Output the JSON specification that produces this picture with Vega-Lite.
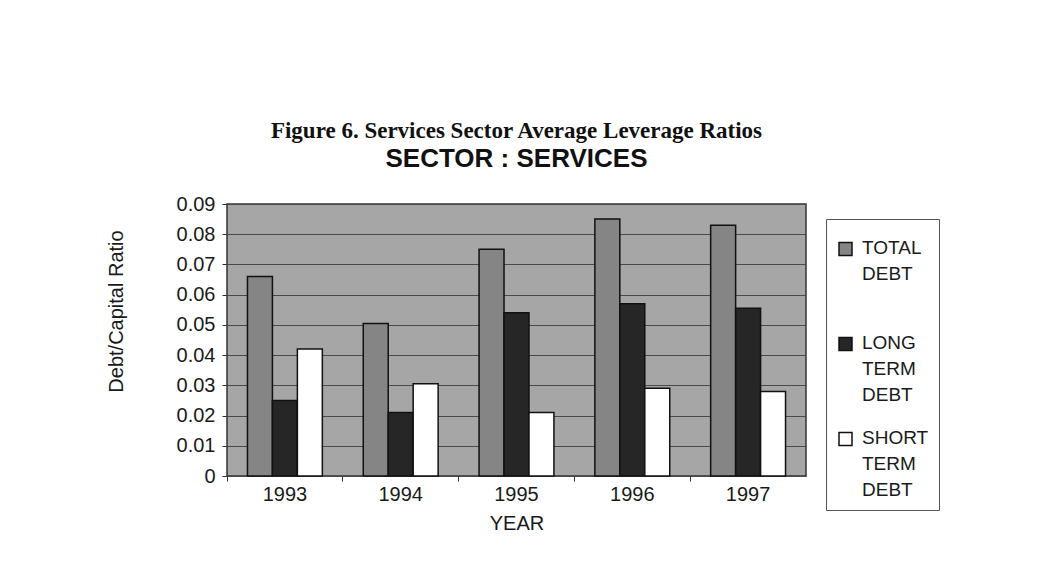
{
  "$schema": "https://vega.github.io/schema/vega-lite/v6.json",
  "width": 579,
  "height": 272,
  "autosize": {"type": "none"},
  "padding": {"left": 227, "top": 204, "right": 241, "bottom": 110},
  "background": "white",
  "title": {
    "text": "Figure 6. Services Sector Average Leverage Ratios",
    "subtitle": "SECTOR : SERVICES",
    "frame": "group",
    "anchor": "middle",
    "font": "Liberation Serif",
    "fontSize": 23,
    "fontWeight": "bold",
    "color": "#111111",
    "subtitleFont": "Liberation Sans",
    "subtitleFontSize": 26,
    "subtitleFontWeight": "bold",
    "subtitleColor": "#111111",
    "subtitlePadding": 3,
    "offset": 22
  },
  "data": {
    "values": [
      {"year": "1993", "series": "TOTAL DEBT", "ratio": 0.066},
      {"year": "1993", "series": "LONG TERM DEBT", "ratio": 0.025},
      {"year": "1993", "series": "SHORT TERM DEBT", "ratio": 0.042},
      {"year": "1994", "series": "TOTAL DEBT", "ratio": 0.0505},
      {"year": "1994", "series": "LONG TERM DEBT", "ratio": 0.021},
      {"year": "1994", "series": "SHORT TERM DEBT", "ratio": 0.0305},
      {"year": "1995", "series": "TOTAL DEBT", "ratio": 0.075},
      {"year": "1995", "series": "LONG TERM DEBT", "ratio": 0.054},
      {"year": "1995", "series": "SHORT TERM DEBT", "ratio": 0.021},
      {"year": "1996", "series": "TOTAL DEBT", "ratio": 0.085},
      {"year": "1996", "series": "LONG TERM DEBT", "ratio": 0.057},
      {"year": "1996", "series": "SHORT TERM DEBT", "ratio": 0.029},
      {"year": "1997", "series": "TOTAL DEBT", "ratio": 0.083},
      {"year": "1997", "series": "LONG TERM DEBT", "ratio": 0.0555},
      {"year": "1997", "series": "SHORT TERM DEBT", "ratio": 0.028}
    ]
  },
  "mark": {"type": "bar", "stroke": "#111111", "strokeWidth": 1.5},
  "encoding": {
    "x": {
      "field": "year",
      "type": "nominal",
      "scale": {"paddingInner": 0, "paddingOuter": 0},
      "axis": {
        "title": "YEAR",
        "labelAngle": 0,
        "bandPosition": 0,
        "labelFont": "Liberation Sans",
        "labelFontSize": 20,
        "labelColor": "#1a1a1a",
        "labelPadding": 3,
        "tickSize": 5,
        "tickColor": "#333333",
        "domain": false,
        "titleFont": "Liberation Sans",
        "titleFontSize": 20,
        "titleFontWeight": "normal",
        "titleColor": "#1a1a1a",
        "titlePadding": 9
      }
    },
    "xOffset": {
      "field": "series",
      "type": "nominal",
      "sort": ["TOTAL DEBT", "LONG TERM DEBT", "SHORT TERM DEBT"],
      "scale": {"paddingInner": 0, "paddingOuter": 0.82}
    },
    "y": {
      "field": "ratio",
      "type": "quantitative",
      "scale": {"domain": [0, 0.09], "nice": false},
      "axis": {
        "title": "Debt/Capital Ratio",
        "values": [0, 0.01, 0.02, 0.03, 0.04, 0.05, 0.06, 0.07, 0.08, 0.09],
        "format": ".2~f",
        "labelFont": "Liberation Sans",
        "labelFontSize": 20,
        "labelColor": "#1a1a1a",
        "labelPadding": 7,
        "tickSize": 5,
        "tickColor": "#333333",
        "domain": false,
        "grid": true,
        "gridColor": "#4a4a4a",
        "gridWidth": 1,
        "titleFont": "Liberation Sans",
        "titleFontSize": 20,
        "titleFontWeight": "normal",
        "titleColor": "#1a1a1a",
        "titlePadding": 50,
        "titleY": 107
      }
    },
    "color": {
      "field": "series",
      "type": "nominal",
      "sort": ["TOTAL DEBT", "LONG TERM DEBT", "SHORT TERM DEBT"],
      "scale": {
        "domain": ["TOTAL DEBT", "LONG TERM DEBT", "SHORT TERM DEBT"],
        "range": ["#858585", "#262626", "#ffffff"]
      },
      "legend": {
        "title": null,
        "orient": "none",
        "legendX": 599,
        "legendY": 15,
        "symbolType": "M-1,0.6H1V2.6H-1Z",
        "symbolSize": 169,
        "symbolStrokeColor": "#111111",
        "symbolStrokeWidth": 1.5,
        "symbolOpacity": 1,
        "labelFont": "Liberation Sans",
        "labelFontSize": 19,
        "labelColor": "#1a1a1a",
        "labelOffset": 7,
        "labelBaseline": "top",
        "labelExpr": "datum.value == 'TOTAL DEBT' ? ['TOTAL', 'DEBT', ''] : datum.value == 'LONG TERM DEBT' ? ['LONG', 'TERM', 'DEBT'] : ['SHORT', 'TERM', 'DEBT']",
        "rowPadding": 14,
        "padding": 10,
        "strokeColor": "#555555",
        "fillColor": "#ffffff"
      }
    }
  },
  "config": {
    "view": {"fill": "#a6a6a6", "stroke": "#333333", "strokeWidth": 1.5},
    "bar": {"fillOpacity": 1},
    "style": {"guide-label": {"lineHeight": 26}}
  }
}
